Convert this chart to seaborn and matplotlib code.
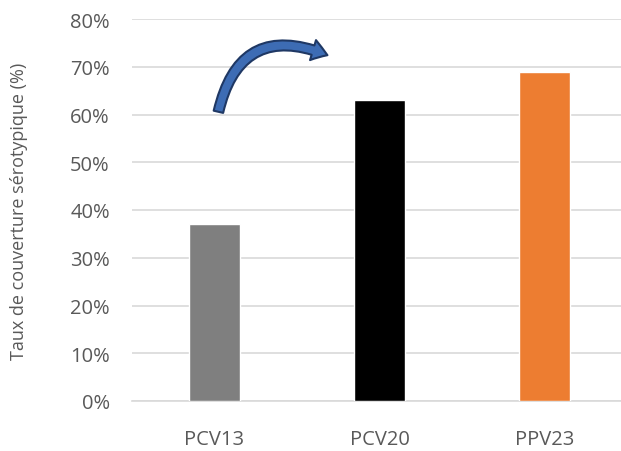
import matplotlib
matplotlib.use("Agg")
import matplotlib.pyplot as plt
import seaborn as sns
import pandas as pd
from matplotlib.patches import FancyArrowPatch
from matplotlib.ticker import PercentFormatter

vaccins = ["PCV13", "PCV20", "PPV23"]
couverture = [0.37, 0.63, 0.69]
couleurs = ["#7f7f7f", "#000000", "#ed7d31"]

sns.set_style("white")
plt.rcParams["font.family"] = ["Open Sans", "DejaVu Sans"]

df = pd.DataFrame({"vaccin": vaccins, "couverture": couverture})

fig = plt.figure(figsize=(6.21, 4.52), dpi=100)
ax = fig.add_axes([132 / 621, 50 / 452, 495 / 621, 382 / 452])

sns.barplot(data=df, x="vaccin", y="couverture", hue="vaccin",
            palette=couleurs, width=0.315, legend=False, ax=ax,
            saturation=1, zorder=3)

ax.set_ylim(0, 0.8)
ax.set_xlim(-0.5, 2.5)
ax.set_yticks([i / 10 for i in range(9)])
ax.yaxis.set_major_formatter(PercentFormatter(1.0, decimals=0))
ax.grid(axis="y", color="#d9d9d9", linewidth=1.2, zorder=0)
ax.set_axisbelow(True)
for s in ["top", "right", "left"]:
    ax.spines[s].set_visible(False)
ax.spines["bottom"].set_color("#d9d9d9")
ax.spines["bottom"].set_linewidth(1.2)
ax.tick_params(axis="both", length=0, colors="#595959", labelsize=14.5)
ax.tick_params(axis="y", pad=16)
ax.tick_params(axis="x", pad=20)
ax.set_xlabel("")
ax.set_ylabel("Taux de couverture sérotypique (%)", color="#595959",
              fontsize=13, labelpad=30)

# curved arrow from PCV13 towards PCV20
arrow = FancyArrowPatch((0.02, 0.60), (0.70, 0.722),
                        connectionstyle="arc3,rad=-0.6",
                        arrowstyle="simple,head_length=11,head_width=15,tail_width=7",
                        facecolor="#3d6cb4", edgecolor="#1f3864",
                        linewidth=1.5, zorder=5, clip_on=False)
ax.add_patch(arrow)

fig.savefig("out.png", dpi=100)
